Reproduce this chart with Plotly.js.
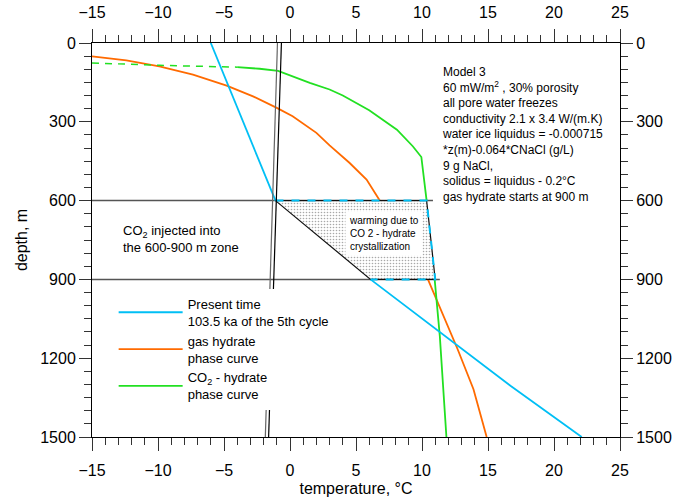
<!DOCTYPE html>
<html>
<head>
<meta charset="utf-8">
<script src="https://cdn.plot.ly/plotly-3.0.1.min.js"></script>
<style>html,body{margin:0;padding:0;background:#fff;}#chart{width:680px;height:500px;}</style>
</head>
<body>
<div id="chart"></div>
<script>
// ---- data (temperature °C, depth m) ----
const presentUpperT = [-6.0, -1.1];
const presentUpperD = [0, 600];
const presentWarmT = [-1.1, 10.35, 11.0, 6.1];
const presentWarmD = [600, 600, 900, 900];
const presentLowerT = [6.1, 16.7, 22.1];
const presentLowerD = [900, 1305, 1500];

const warmZoneT = [-1.1, 10.35, 11.0, 6.1, -1.1];
const warmZoneD = [600, 600, 900, 900, 600];

const gasHydrateT = [-15, -12.4, -9.9, -7.35, -4.8, -2.8, -1.0, 0.2, 2.0, 3.0, 4.5, 5.8, 6.8, null, 10.45, 11.1, 12.7, 13.9, 14.9];
const gasHydrateD = [51, 66, 89, 120, 162, 203, 247, 279, 342, 390, 456, 520, 600, null, 900, 976, 1166, 1318, 1500];

const co2DashT = [-15, -9.9, -4.0];
const co2DashD = [76, 85, 92];
const co2T = [-4.0, -2.3, -0.9, 1.5, 3.0, 4.0, 6.0, 8.1, 9.3, 9.95, 10.35, null, 10.96, 11.35, 11.85];
const co2D = [92, 98, 106, 152, 177, 200, 256, 330, 393, 434, 600, null, 900, 1116, 1500];

const liquidusT = [-0.65, -1.62];
const solidusT = [-0.95, -1.87];
const iceLineD = [0, 1500];

const zoneTopT = [-15, 10.83];
const zoneTopD = [600, 600];
const zoneBottomT = [-15, 11.35];
const zoneBottomD = [900, 900];

const tempRange = [-15, 25];
const depthRange = [1500, 0];

const BLUE = '#00bff5', ORANGE = '#ff6a00', GREEN = '#22e022';
const FONT = 'Liberation Sans, Arial, sans-serif';

const traces = [
  {x: zoneTopT, y: zoneTopD, mode: 'lines', line: {color: '#555', width: 1.5}, showlegend: false, hoverinfo: 'skip'},
  {x: zoneBottomT, y: zoneBottomD, mode: 'lines', line: {color: '#555', width: 1.5}, showlegend: false, hoverinfo: 'skip'},
  {x: gasHydrateT, y: gasHydrateD, mode: 'lines', line: {color: ORANGE, width: 1.8}, name: 'gas hydrate<br>phase curve', legendrank: 2, connectgaps: false},
  {x: co2DashT, y: co2DashD, mode: 'lines', line: {color: GREEN, width: 1.5, dash: '7px,6px'}, showlegend: false},
  {x: co2T, y: co2D, mode: 'lines', line: {color: GREEN, width: 1.8}, name: 'CO<sub>2</sub> - hydrate<br>phase curve', legendrank: 3, connectgaps: false},
  {x: presentUpperT, y: presentUpperD, mode: 'lines', line: {color: BLUE, width: 1.8}, name: 'Present time<br>103.5 ka of the 5th cycle', legendrank: 1, legendgroup: 'p'},
  {x: presentLowerT, y: presentLowerD, mode: 'lines', line: {color: BLUE, width: 1.8}, showlegend: false, legendgroup: 'p'},
  {x: warmZoneT, y: warmZoneD, mode: 'lines', fill: 'toself', fillcolor: 'white',
   fillpattern: {shape: '.', fgcolor: '#a8a8a8', bgcolor: 'white', size: 3, solidity: 0.22},
   line: {color: '#111', width: 1.2}, showlegend: false, hoverinfo: 'skip'},
  {x: presentWarmT, y: presentWarmD, mode: 'lines', line: {color: BLUE, width: 2, dash: '8px,8px'}, showlegend: false, legendgroup: 'p'},
  {x: solidusT, y: iceLineD, xaxis: 'x2', yaxis: 'y2', mode: 'lines', line: {color: '#666', width: 1.2}, showlegend: false, hoverinfo: 'skip'},
  {x: liquidusT, y: iceLineD, xaxis: 'x2', yaxis: 'y2', mode: 'lines', line: {color: '#000', width: 1.2}, showlegend: false, hoverinfo: 'skip'}
];

const xCommon = {
  range: tempRange, dtick: 5, tick0: 0, ticks: 'outside', ticklen: 13, tickcolor: '#333', tickwidth: 1,
  minor: {dtick: 1, ticks: 'outside', ticklen: 7, tickcolor: '#333'},
  showline: true, linecolor: '#000', linewidth: 1, showgrid: false, zeroline: false,
  tickfont: {family: FONT, size: 16, color: '#000'}
};
const yCommon = {
  range: depthRange, dtick: 300, tick0: 0, ticks: 'outside', ticklen: 12, tickcolor: '#333', tickwidth: 1,
  minor: {dtick: 50, ticks: 'outside', ticklen: 7, tickcolor: '#333'},
  showline: true, linecolor: '#000', linewidth: 1, showgrid: false, zeroline: false,
  tickfont: {family: FONT, size: 16, color: '#000'}
};

const layout = {
  width: 680, height: 500,
  margin: {l: 92, r: 60, t: 43, b: 63},
  paper_bgcolor: 'white', plot_bgcolor: 'white',
  font: {family: FONT, color: '#000'},
  xaxis: Object.assign({}, xCommon, {side: 'bottom', ticklabelstandoff: 6,
    title: {text: 'temperature, °C', font: {family: FONT, size: 16}, standoff: 4}}),
  xaxis2: Object.assign({}, xCommon, {side: 'top', overlaying: 'x', anchor: 'y2', ticklabelstandoff: 5}),
  yaxis: Object.assign({}, yCommon, {side: 'left',
    title: {text: 'depth, m', font: {family: FONT, size: 16}, standoff: 8}}),
  yaxis2: Object.assign({}, yCommon, {side: 'right', overlaying: 'y', anchor: 'x2'}),
  showlegend: true,
  legend: {x: 0.041, y: 0.376, xanchor: 'left', yanchor: 'top', bgcolor: 'white', itemwidth: 64,
    borderwidth: 0, font: {family: FONT, size: 13, color: '#000'}, traceorder: 'normal', valign: 'middle'},
  annotations: [
    {xref: 'x', yref: 'y', x: 11.35, y: 78, xanchor: 'left', yanchor: 'top', align: 'left', showarrow: false,
     font: {family: FONT, size: 12, color: '#000'},
     text: 'Model 3<br>60 mW/m<sup>2</sup> , 30% porosity<br>all pore water freezes<br>conductivity 2.1 x 3.4 W/(m.K)<br>water ice liquidus = -0.000715<br>*z(m)-0.064*CNaCl (g/L)<br>9 g NaCl,<br>solidus = liquidus - 0.2°C<br>gas hydrate starts at 900 m'},
    {xref: 'x', yref: 'y', x: -12.78, y: 748, xanchor: 'left', yanchor: 'middle', align: 'left', showarrow: false,
     font: {family: FONT, size: 13, color: '#000'},
     text: 'CO<sub>2</sub> injected into<br>the 600-900 m zone'},
    {xref: 'x', yref: 'y', x: 4.15, y: 726, xanchor: 'left', yanchor: 'middle', align: 'left', showarrow: false,
     bgcolor: 'white', borderpad: 3,
     font: {family: FONT, size: 10, color: '#000'},
     text: 'warming due to<br>CO 2 - hydrate<br>crystallization'}
  ]
};

Plotly.newPlot('chart', traces, layout, {displayModeBar: false, staticPlot: true});
</script>
</body>
</html>
